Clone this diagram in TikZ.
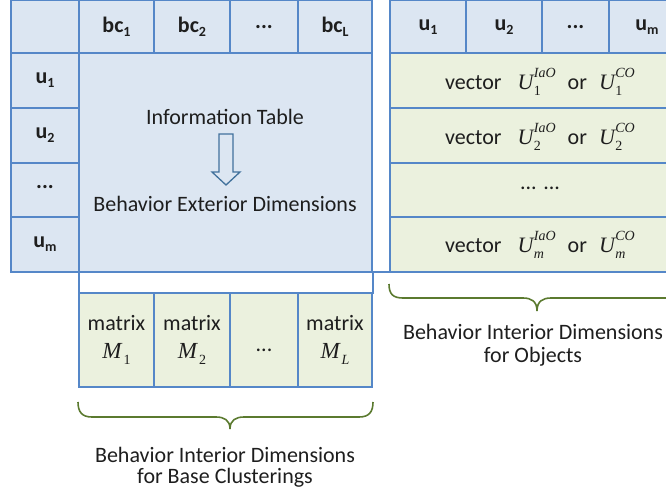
\documentclass[tikz,border=0pt]{standalone}
\usepackage{fontspec}
\setmainfont{Carlito}
\newfontfamily\tms{Liberation Serif}
\definecolor{bdr}{HTML}{5587C8}
\definecolor{hdr}{HTML}{DCE6F2}
\definecolor{grn}{HTML}{EBF1DE}
\definecolor{brc}{HTML}{5B7A2F}
\definecolor{txt}{HTML}{1E1E1E}
\definecolor{arw}{HTML}{41719C}
\newcommand\sbs[1]{\raisebox{-0.35ex}{\fontsize{14}{16}\selectfont #1}}
% #1 base, #2 superscript, #3 subscript
\newcommand\Uv[3]{{\tms\itshape #1}\kern0.5pt\rlap{\raisebox{-0.3em}{\fontsize{14}{14}\selectfont\tms #3}}\raisebox{0.55em}{\fontsize{14}{14}\selectfont\tms\itshape #2}}
\newcommand\Mv[1]{{\tms\itshape M}\kern2pt\raisebox{-0.3em}{\fontsize{14}{14}\selectfont\tms #1}}
\begin{document}
\begin{tikzpicture}[x=1pt,y=-1pt,
  cellline/.style={draw=bdr, line width=1.3pt},
  lbl/.style={font=\fontsize{22}{26}\selectfont, text=txt, inner sep=0pt},
  mth/.style={font=\fontsize{23}{26}\selectfont, text=txt, inner sep=0pt},
  hb/.style={font=\fontsize{22}{26}\selectfont\bfseries, text=txt, inner sep=0pt},
  bracestyle/.style={draw=brc, line width=1.6pt}]
\useasboundingbox (0,0) rectangle (666,493);
\begin{scope}
\clip (0,-2) rectangle (666,495);
% fills
\fill[hdr] (11,0.7) rectangle (372,272);
\fill[grn] (390,53) rectangle (690,272);
\fill[hdr] (390,0.7) rectangle (690,53);
\fill[grn] (79,293) rectangle (372,387);
% left table grid
\draw[cellline] (11,0.7) rectangle (372,272);
\draw[cellline] (11,53) -- (372,53);
\draw[cellline] (79,0.7) -- (79,293);
\foreach \x in {154,230,298} \draw[cellline] (\x,0.7) -- (\x,53);
\foreach \y in {108,163,217} \draw[cellline] (11,\y) -- (79,\y);
% white row and matrix row
\draw[cellline] (79,272) rectangle (373,293);
\draw[cellline] (79,293) rectangle (372,387);
\foreach \x in {154,230,298} \draw[cellline] (\x,293) -- (\x,387);
% right panel grid
\draw[cellline] (390,0.7) rectangle (690,272);
\draw[cellline] (390,53) -- (690,53);
\foreach \x in {466,542,609} \draw[cellline] (\x,0.7) -- (\x,53);
\foreach \y in {108,163,217} \draw[cellline] (390,\y) -- (690,\y);
\draw[cellline] (11,272) -- (690,272);
% header texts
\node[hb] (bc1) at (116.5,27) {bc\sbs{1}};
\node[hb] (bc2) at (192,27) {bc\sbs{2}};
\node[hb] (bcd) at (264,27) {...};
\node[hb] (bcL) at (335,27) {bc\sbs{L}};
\node[hb] (hu1) at (428,27) {u\sbs{1}};
\node[hb] (hu2) at (504,27) {u\sbs{2}};
\node[hb] (hud) at (575.5,27) {...};
\node[hb] (hum) at (647,27) {u\sbs{m}};
% left column
\node[hb] (u1) at (45,80) {u\sbs{1}};
\node[hb] (u2) at (45,135) {u\sbs{2}};
\node[hb] (ud) at (45,187) {...};
\node[hb] (um) at (45,244) {u\sbs{m}};
% right rows
\node[lbl] (v1) at (540,82) {vector\hspace{16pt}\Uv{U}{IaO}{1}\hspace{12pt}or\hspace{12pt}\Uv{U}{CO}{1}};
\node[lbl] (v2) at (540,137) {vector\hspace{16pt}\Uv{U}{IaO}{2}\hspace{12pt}or\hspace{12pt}\Uv{U}{CO}{2}};
\node[lbl] (vd) at (540,188) {... ...};
\node[lbl] (vm) at (540,245) {vector\hspace{16pt}\Uv{U}{IaO}{\itshape m}\hspace{12pt}or\hspace{12pt}\Uv{U}{CO}{\itshape m}};
% center texts
\node[lbl] (info) at (225,117) {Information Table};
\node[lbl] (bed) at (225,204) {Behavior Exterior Dimensions};
\draw[draw=arw, line width=1.3pt, line join=miter]
  (219,134) -- (233,134) -- (233,172) -- (240,172) -- (226,185) -- (212,172) -- (219,172) -- cycle;
% matrix texts
\node[lbl] (m1) at (116.5,323) {matrix};
\node[lbl] (m2) at (192,323) {matrix};
\node[lbl] (mL) at (335,323) {matrix};
\node[mth] (M1) at (116.5,354) {\Mv{1}};
\node[mth] (M2) at (192,354) {\Mv{2}};
\node[lbl] (Md) at (264,350) {...};
\node[mth] (ML) at (335,354) {\Mv{\itshape L}};
% braces
\draw[bracestyle] (78,402) .. controls (78,412) and (82,417) .. (92,417)
  -- (216,417) .. controls (224,417) and (230,420) .. (230,429)
  .. controls (230,420) and (236,417) .. (244,417)
  -- (359,417) .. controls (369,417) and (373,412) .. (373,402);
\draw[bracestyle] (389,284) .. controls (389,294) and (393,298) .. (403,298)
  -- (523,298) .. controls (531,298) and (537,301) .. (537,311)
  .. controls (537,301) and (543,298) .. (551,298)
  -- (671,298) .. controls (681,298) and (685,294) .. (685,284);
\node[lbl] (lab1) at (225,455) {Behavior Interior Dimensions};
\node[lbl] (lab2) at (225,478) {for Base Clusterings};
\node[lbl] (lab3) at (533,332) {Behavior Interior Dimensions};
\node[lbl] (lab4) at (533,357) {for Objects};
\end{scope}
\end{tikzpicture}
\end{document}
